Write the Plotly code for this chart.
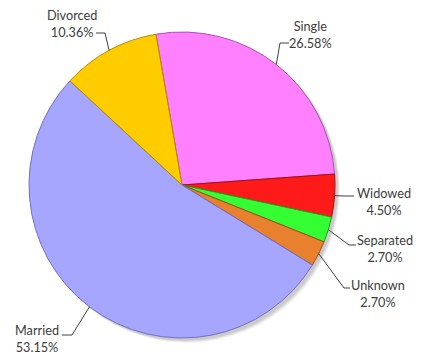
import math
import plotly.graph_objects as go

# Marital status breakdown
labels = ["Single", "Widowed", "Separated", "Unknown", "Married", "Divorced"]
values = [26.58, 4.50, 2.70, 2.70, 53.15, 10.36]
pct_text = ["26.58%", "4.50%", "2.70%", "2.70%", "53.15%", "10.36%"]

colors = ["#FF80FF", "#FF1A1A", "#33FF33", "#E8802E", "#A6A6FF", "#FFCC00"]
edge_colors = ["#B04CB0", "#A01010", "#1F9F1F", "#9A5018", "#7070C0", "#B08C00"]

W, H = 425, 356
CX, CY, R = 182, 185, 153     # pie centre / radius in pixels
ROTATION = -9.8                # start angle of the first slice (deg, clockwise from 12 o'clock)

# label placement: text block centre, leader elbow and leader end (pixels)
label_layout = {
    "Single":    dict(text=(310, 35),  elbow=(280, 43),  end=(289, 43)),
    "Widowed":   dict(text=(384, 201), elbow=(345, 196), end=(354, 196)),
    "Separated": dict(text=(385, 248), elbow=(349, 245), end=(356, 245)),
    "Unknown":   dict(text=(378, 293), elbow=(344, 288), end=(350, 288)),
    "Married":   dict(text=(37, 338),  elbow=(72, 335),  end=(62, 335)),
    "Divorced":  dict(text=(72, 24),   elbow=(105, 33),  end=(96, 33)),
}


def px(x):
    return x / W


def py(y):
    return 1 - y / H


fig = go.Figure()
fig.add_trace(go.Pie(
    labels=labels,
    values=values,
    sort=False,
    direction="clockwise",
    rotation=ROTATION,
    textinfo="none",
    hoverinfo="label+percent",
    marker=dict(colors=colors, line=dict(color=edge_colors, width=1)),
    domain=dict(x=[px(CX - R), px(CX + R)], y=[py(CY + R), py(CY - R)]),
    showlegend=False,
))

shapes = []
# soft drop shadow under the pie
for off, alpha in [(5, 0.05), (4, 0.07), (3, 0.09)]:
    shapes.append(dict(
        type="circle", xref="paper", yref="paper", layer="below",
        x0=px(CX - R + off), x1=px(CX + R + off),
        y0=py(CY + R + off), y1=py(CY - R + off),
        fillcolor=f"rgba(0,0,0,{alpha})", line=dict(width=0),
    ))

annotations = []
total = sum(values)
cum = 0.0
for lab, val, pt in zip(labels, values, pct_text):
    mid = ROTATION + (cum + val / 2) / total * 360
    cum += val
    a = math.radians(mid)
    ex, ey = CX + R * math.sin(a), CY - R * math.cos(a)
    spec = label_layout[lab]
    (bx, by), (qx, qy) = spec["elbow"], spec["end"]
    path = (f"M {px(ex)},{py(ey)} L {px(bx)},{py(by)} L {px(qx)},{py(qy)}")
    shapes.append(dict(type="path", xref="paper", yref="paper", path=path,
                       line=dict(color="#404040", width=1)))
    tx, ty = spec["text"]
    annotations.append(dict(
        x=px(tx), y=py(ty), xref="paper", yref="paper",
        text=f"{lab}<br>{pt}", showarrow=False, align="center",
        xanchor="center", yanchor="middle",
        font=dict(family="Lato, Open Sans, sans-serif", size=12.7, color="#3C3C3C"),
    ))

fig.update_layout(
    width=W, height=H,
    margin=dict(l=0, r=0, t=0, b=0),
    paper_bgcolor="white", plot_bgcolor="white",
    shapes=shapes, annotations=annotations,
)

fig.write_html("out.html")
